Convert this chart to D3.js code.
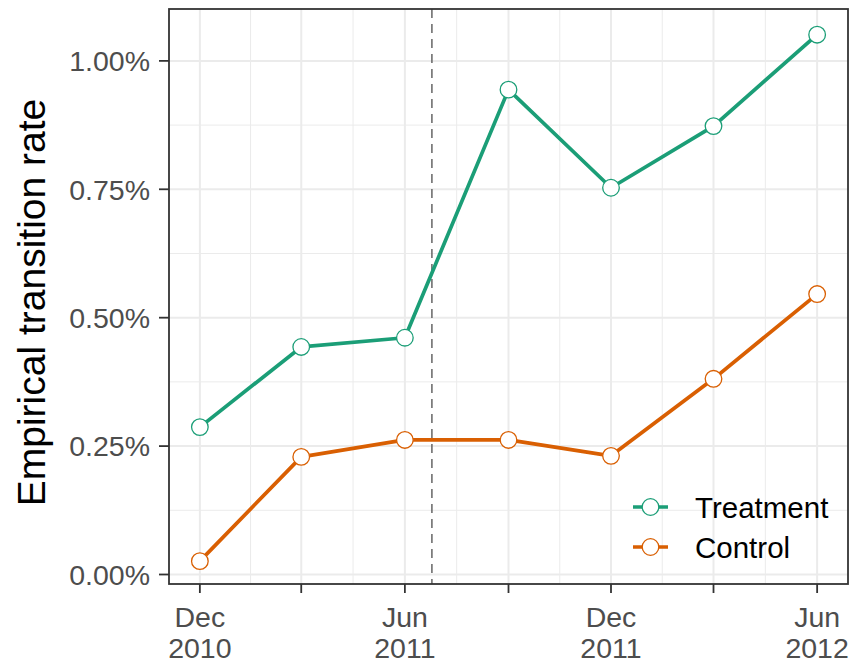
<!DOCTYPE html>
<html>
<head>
<meta charset="utf-8">
<script src="https://cdn.jsdelivr.net/npm/d3@7"></script>
<style>
  body { margin: 0; background: #fff; }
  svg { font-family: "Liberation Sans", Arial, sans-serif; }
</style>
</head>
<body>
<svg id="plot" width="855" height="663"></svg>
<script>
// data (rates in percent)
const dates = ["2010-12-01", "2011-03-01", "2011-06-01", "2011-09-01", "2011-12-01", "2012-03-01", "2012-06-01"];
const treatment = [0.287, 0.443, 0.461, 0.944, 0.753, 0.873, 1.051];
const control = [0.026, 0.229, 0.262, 0.262, 0.231, 0.381, 0.546];
const seriesNames = ["Treatment", "Control"];
const seriesColors = ["#1b9e77", "#d95f02"];
const cutoffDate = "2011-06-25";
const yTicks = [0, 0.25, 0.5, 0.75, 1.0];
const yMinor = [0.125, 0.375, 0.625, 0.875];

const parse = d3.utcParse("%Y-%m-%d");
const xDates = dates.map(parse);

const svg = d3.select("#plot");
const margin = { top: 9, right: 7, bottom: 79, left: 169 };
const width = 855 - margin.left - margin.right;
const height = 663 - margin.top - margin.bottom;

const g = svg.append("g").attr("transform", `translate(${margin.left},${margin.top})`);

// scales with ggplot-like 5% expansion
const x0 = d3.scaleUtc().domain(d3.extent(xDates)).range([0, 1]);
const x = d3.scaleUtc()
    .domain([x0.invert(-0.05), x0.invert(1.05)])
    .range([0, width]);
const y = d3.scaleLinear().domain([-0.0185, 1.101]).range([height, 0]);

// minor gridlines
const xMinor = xDates.slice(1).map((d, i) => new Date((+d + +xDates[i]) / 2));
g.selectAll(".vminor").data(xMinor).enter().append("line")
    .attr("x1", d => x(d)).attr("x2", d => x(d))
    .attr("y1", 0).attr("y2", height)
    .attr("stroke", "#ebebeb").attr("stroke-width", 1);
g.selectAll(".hminor").data(yMinor).enter().append("line")
    .attr("x1", 0).attr("x2", width)
    .attr("y1", d => y(d)).attr("y2", d => y(d))
    .attr("stroke", "#ebebeb").attr("stroke-width", 1);

// major gridlines
g.selectAll(".vmajor").data(xDates).enter().append("line")
    .attr("x1", d => x(d)).attr("x2", d => x(d))
    .attr("y1", 0).attr("y2", height)
    .attr("stroke", "#ebebeb").attr("stroke-width", 2);
g.selectAll(".hmajor").data(yTicks).enter().append("line")
    .attr("x1", 0).attr("x2", width)
    .attr("y1", d => y(d)).attr("y2", d => y(d))
    .attr("stroke", "#ebebeb").attr("stroke-width", 2);

// cutoff
g.append("line")
    .attr("x1", x(parse(cutoffDate))).attr("x2", x(parse(cutoffDate)))
    .attr("y1", 0).attr("y2", height)
    .attr("stroke", "#666").attr("stroke-width", 1.5)
    .attr("stroke-dasharray", "9,6");

// lines + points
const line = d3.line().x((d, i) => x(xDates[i])).y(d => y(d));
[treatment, control].forEach((vals, k) => {
    g.append("path")
        .datum(vals)
        .attr("fill", "none")
        .attr("stroke", seriesColors[k])
        .attr("stroke-width", 3.7)
        .attr("stroke-linejoin", "round")
        .attr("d", line);
    g.selectAll(".pt" + k).data(vals).enter().append("circle")
        .attr("cx", (d, i) => x(xDates[i]))
        .attr("cy", d => y(d))
        .attr("r", 8.3)
        .attr("fill", "#fff")
        .attr("stroke", seriesColors[k])
        .attr("stroke-width", 1.3);
});

// panel border
g.append("rect")
    .attr("width", width).attr("height", height)
    .attr("fill", "none").attr("stroke", "#333").attr("stroke-width", 1.8);

// y axis
const yAxis = g.append("g");
yAxis.selectAll("line").data(yTicks).enter().append("line")
    .attr("x1", -10).attr("x2", 0)
    .attr("y1", d => y(d)).attr("y2", d => y(d))
    .attr("stroke", "#333").attr("stroke-width", 1.8);
yAxis.selectAll("text").data(yTicks).enter().append("text")
    .attr("x", -19).attr("y", d => y(d))
    .attr("dy", "0.36em")
    .attr("text-anchor", "end")
    .attr("fill", "#4d4d4d")
    .style("font-size", "28.5px")
    .text(d => d3.format(".2f")(d) + "%");

// x axis
const fmtMon = d3.utcFormat("%b"), fmtYear = d3.utcFormat("%Y");
const xAxis = g.append("g").attr("transform", `translate(0,${height})`);
xAxis.selectAll("line").data(xDates).enter().append("line")
    .attr("x1", d => x(d)).attr("x2", d => x(d))
    .attr("y1", 0).attr("y2", 9)
    .attr("stroke", "#333").attr("stroke-width", 1.8);
const labelled = xDates.filter(d => d.getUTCMonth() === 11 || d.getUTCMonth() === 5);
const xl = xAxis.selectAll("text").data(labelled).enter().append("text")
    .attr("text-anchor", "middle")
    .attr("fill", "#4d4d4d")
    .style("font-size", "28.5px");
xl.append("tspan").attr("x", d => x(d)).attr("y", 43).text(fmtMon);
xl.append("tspan").attr("x", d => x(d)).attr("y", 74).text(fmtYear);

// y title
g.append("text")
    .attr("transform", `translate(${45 - margin.left},${height / 2 + 6}) rotate(-90)`)
    .attr("text-anchor", "middle")
    .style("font-size", "39px")
    .attr("fill", "#000")
    .text("Empirical transition rate");

// legend
const legend = g.append("g").attr("transform", `translate(${633 - margin.left},${507 - margin.top})`);
seriesNames.forEach((name, k) => {
    const row = legend.append("g").attr("transform", `translate(0,${k * 40})`);
    row.append("line").attr("x1", 0).attr("x2", 35).attr("y1", 0).attr("y2", 0)
        .attr("stroke", seriesColors[k]).attr("stroke-width", 3.7);
    row.append("circle").attr("cx", 17.5).attr("cy", 0).attr("r", 8.3)
        .attr("fill", "#fff").attr("stroke", seriesColors[k]).attr("stroke-width", 1.3);
    row.append("text").attr("x", 62).attr("y", 0).attr("dy", "0.36em")
        .style("font-size", "29.5px").attr("fill", "#000")
        .text(name);
});
</script>
</body>
</html>
